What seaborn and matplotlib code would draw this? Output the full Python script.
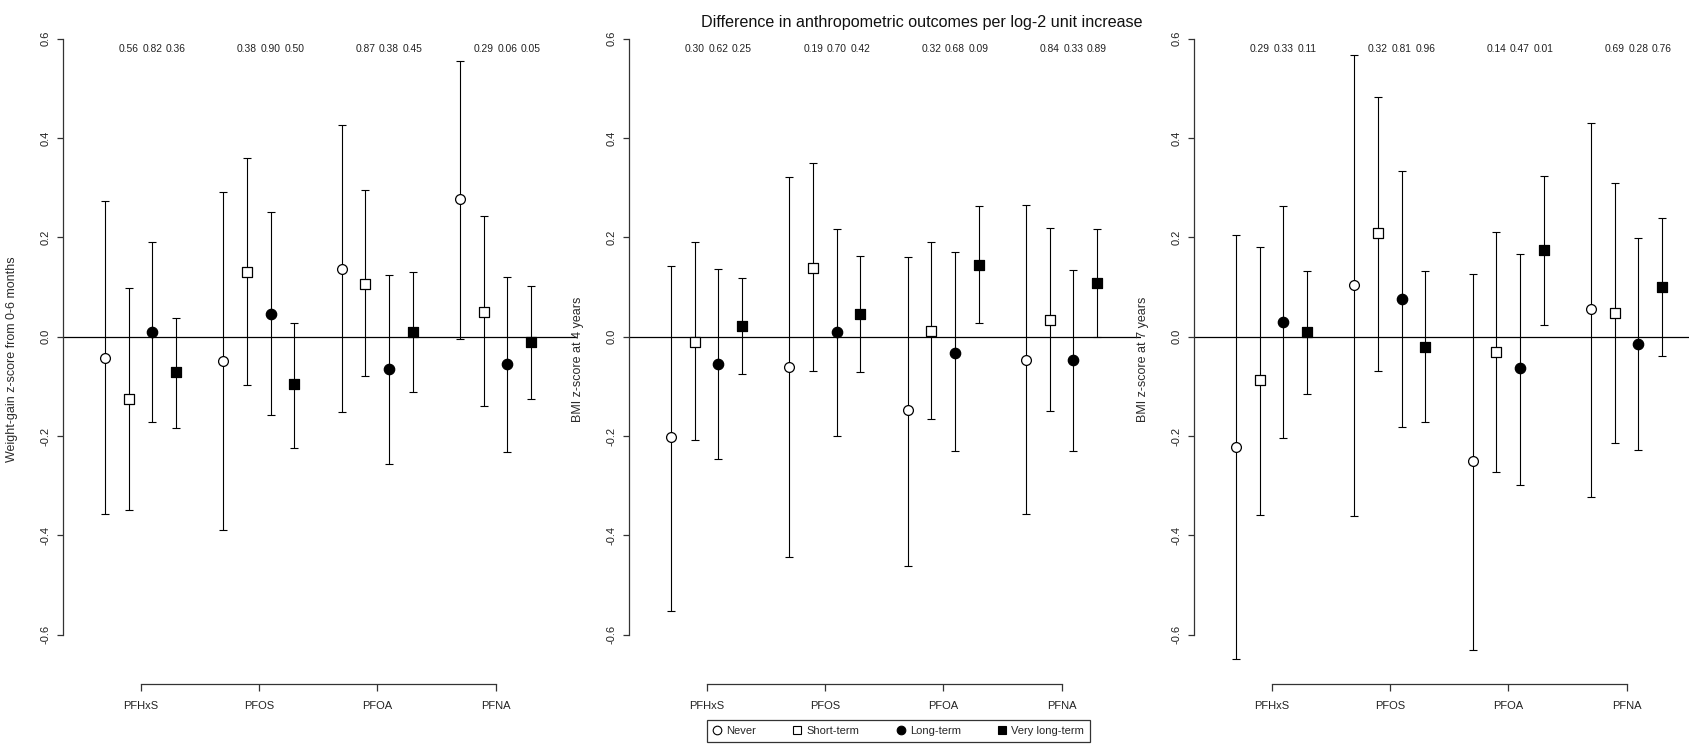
import numpy as np
import pandas as pd
import matplotlib
matplotlib.use("Agg")
import matplotlib.pyplot as plt
from matplotlib.lines import Line2D
import seaborn as sns

# Data
exposures = ["PFHxS", "PFOS", "PFOA", "PFNA"]
durations = ["Never", "Short-term", "Long-term", "Very long-term"]

ylabels = ["Weight-gain z-score from 0-6 months",
           "BMI z-score at 4 years",
           "BMI z-score at 7 years"]

# estimates per exposure: [Never, Short-term, Long-term, Very long-term]
wg_est = [[-0.042, -0.125, 0.010, -0.072],
          [-0.049, 0.130, 0.045, -0.095],
          [0.136, 0.106, -0.066, 0.009],
          [0.277, 0.050, -0.055, -0.011]]
wg_lo = [[-0.357, -0.350, -0.172, -0.184],
         [-0.390, -0.098, -0.158, -0.224],
         [-0.152, -0.079, -0.256, -0.112],
         [-0.005, -0.139, -0.233, -0.125]]
wg_hi = [[0.274, 0.098, 0.190, 0.037],
         [0.291, 0.360, 0.251, 0.028],
         [0.426, 0.295, 0.124, 0.130],
         [0.555, 0.244, 0.121, 0.103]]

bmi4_est = [[-0.203, -0.010, -0.055, 0.021],
            [-0.061, 0.139, 0.009, 0.045],
            [-0.147, 0.012, -0.032, 0.145],
            [-0.047, 0.034, -0.047, 0.108]]
bmi4_lo = [[-0.552, -0.209, -0.247, -0.076],
           [-0.443, -0.070, -0.200, -0.072],
           [-0.462, -0.165, -0.230, 0.028],
           [-0.357, -0.149, -0.230, 0.000]]
bmi4_hi = [[0.143, 0.190, 0.137, 0.119],
           [0.321, 0.349, 0.216, 0.162],
           [0.160, 0.190, 0.170, 0.263],
           [0.265, 0.218, 0.135, 0.217]]

bmi7_est = [[-0.223, -0.088, 0.029, 0.009],
            [0.104, 0.208, 0.075, -0.021],
            [-0.250, -0.031, -0.063, 0.174],
            [0.055, 0.048, -0.015, 0.101]]
bmi7_lo = [[-0.650, -0.359, -0.205, -0.116],
           [-0.362, -0.070, -0.181, -0.172],
           [-0.631, -0.272, -0.298, 0.024],
           [-0.323, -0.214, -0.228, -0.039]]
bmi7_hi = [[0.204, 0.181, 0.263, 0.133],
           [0.567, 0.483, 0.334, 0.133],
           [0.127, 0.211, 0.167, 0.323],
           [0.430, 0.309, 0.198, 0.239]]

# p-values printed above Short-term, Long-term and Very long-term
wg_p = [["0.56", "0.82", "0.36"], ["0.38", "0.90", "0.50"],
        ["0.87", "0.38", "0.45"], ["0.29", "0.06", "0.05"]]
bmi4_p = [["0.30", "0.62", "0.25"], ["0.19", "0.70", "0.42"],
          ["0.32", "0.68", "0.09"], ["0.84", "0.33", "0.89"]]
bmi7_p = [["0.29", "0.33", "0.11"], ["0.32", "0.81", "0.96"],
          ["0.14", "0.47", "0.01"], ["0.69", "0.28", "0.76"]]

panels = [(wg_est, wg_lo, wg_hi, wg_p),
          (bmi4_est, bmi4_lo, bmi4_hi, bmi4_p),
          (bmi7_est, bmi7_lo, bmi7_hi, bmi7_p)]

# marker style per duration: (marker, facecolor, size)
styles = {"Never": ("o", "white", 50),
          "Short-term": ("s", "white", 62),
          "Long-term": ("o", "black", 56),
          "Very long-term": ("s", "black", 62)}

sns.set_style("white")
plt.rcParams["font.family"] = ["Liberation Sans", "DejaVu Sans"]

W, H = 1690, 748
fig = plt.figure(figsize=(W / 100, H / 100), dpi=100)

px_unit = 23.66
x0 = -1.78
lefts = [63, 629, 1194]
rights = [577, 1141, 1690]
top_px, bot_px = 20, 684
zero_px, y_unit = 336.7, 496.5
ylim = ((zero_px - bot_px) / y_unit, (zero_px - top_px) / y_unit)

for i, (est, lo, hi, pv) in enumerate(panels):
    wpx = rights[i] - lefts[i]
    ax = fig.add_axes([lefts[i] / W, 1 - bot_px / H, wpx / W, (bot_px - top_px) / H])
    ax.set_xlim(x0, x0 + wpx / px_unit)
    ax.set_ylim(*ylim)
    ax.patch.set_alpha(0)

    rows = []
    for g, exp in enumerate(exposures):
        for s, dur in enumerate(durations):
            rows.append({"exposure": exp, "duration": dur, "x": 5 * g + s,
                         "est": est[g][s], "lo": lo[g][s], "hi": hi[g][s]})
    df = pd.DataFrame(rows)

    ax.axhline(0, color="black", lw=0.9, zorder=1)
    ax.errorbar(df["x"], df["est"], yerr=[df["est"] - df["lo"], df["hi"] - df["est"]],
                fmt="none", ecolor="black", elinewidth=0.8, capsize=3.0,
                capthick=0.8, zorder=2, clip_on=False)
    for dur in durations:
        m, fc, sz = styles[dur]
        sub = df[df["duration"] == dur]
        sns.scatterplot(data=sub, x="x", y="est", marker=m, s=sz, color=fc,
                        edgecolor="black", linewidth=0.9, ax=ax, zorder=3,
                        legend=False, clip_on=False)

    # p-values above each group
    for g in range(4):
        for k in range(3):
            ax.text(5 * g + k + 1, 0.579, pv[g][k], ha="center", va="center",
                    fontsize=7.4, color="#222222")

    centers = [5 * g + 1.5 for g in range(4)]
    sns.despine(ax=ax, top=True, right=True)
    ax.spines["left"].set_bounds(-0.6, 0.6)
    ax.spines["bottom"].set_bounds(centers[0], centers[-1])
    for sp in ["left", "bottom"]:
        ax.spines[sp].set_color("#333333")
        ax.spines[sp].set_linewidth(0.9)
    ax.set_yticks([-0.6, -0.4, -0.2, 0.0, 0.2, 0.4, 0.6])
    ax.set_yticklabels(["-0.6", "-0.4", "-0.2", "0.0", "0.2", "0.4", "0.6"],
                       rotation=90, va="center")
    ax.set_xticks(centers)
    ax.set_xticklabels(exposures)
    ax.tick_params(axis="y", direction="out", length=4.3, width=0.9, pad=4.5,
                   labelsize=8, colors="#333333", labelcolor="#222222", left=True)
    ax.tick_params(axis="x", direction="out", length=5, width=0.9, pad=7.5,
                   labelsize=8, colors="#333333", labelcolor="#222222", bottom=True)
    ax.set_xlabel("")
    ax.set_ylabel(ylabels[i], fontsize=9, color="#2a2a2a")
    ax.yaxis.set_label_coords(-45 / wpx, (bot_px - 359) / (bot_px - top_px))

fig.text(922 / W, 1 - 23 / H, "Difference in anthropometric outcomes per log-2 unit increase",
         ha="center", va="center", fontsize=11.6, color="#111111")

handles = []
for dur in durations:
    m, fc, sz = styles[dur]
    handles.append(Line2D([], [], marker=m, ls="none", markersize=6.2,
                          markerfacecolor=fc, markeredgecolor="black", markeredgewidth=0.8))
leg = fig.legend(handles, durations, loc="upper left", ncol=4,
                 bbox_to_anchor=(707 / W, 1 - 720 / H), frameon=True, fancybox=False,
                 fontsize=8, handlelength=0.7, handletextpad=0.45, columnspacing=3.4,
                 borderpad=0.55, borderaxespad=0)
leg.get_frame().set_edgecolor("black")
leg.get_frame().set_linewidth(0.9)

fig.savefig("out.png", dpi=100)
